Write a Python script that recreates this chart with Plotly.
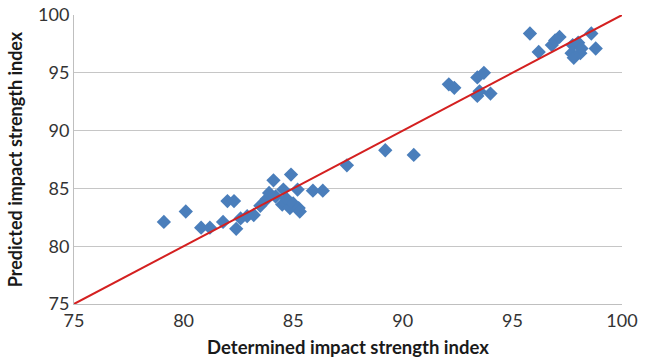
import plotly.graph_objects as go

determined = [79.1, 80.1, 80.8, 81.2, 81.8, 82.0, 82.3, 82.4, 82.6, 82.9, 83.2, 83.5, 83.8, 83.9,
              84.1, 84.2, 84.5, 84.55, 84.7, 84.85, 84.9, 85.0, 85.2, 85.25, 85.3, 85.9, 86.35,
              87.45, 89.2, 90.5, 92.1, 92.35, 93.4, 93.7, 93.5, 94.0, 93.4, 95.8, 96.2, 96.8,
              96.95, 97.15, 97.75, 97.7, 98.0, 97.8, 98.1, 98.15, 98.6, 98.8]
predicted = [82.1, 83.0, 81.6, 81.6, 82.1, 83.9, 83.9, 81.5, 82.4, 82.6, 82.7, 83.5, 84.1, 84.6,
             85.7, 84.3, 83.6, 84.9, 84.1, 83.3, 86.2, 83.7, 84.9, 83.3, 83.0, 84.8, 84.8,
             87.0, 88.3, 87.9, 94.0, 93.7, 94.6, 95.0, 93.4, 93.2, 93.0, 98.4, 96.8, 97.4,
             97.8, 98.1, 97.4, 96.7, 97.6, 96.3, 96.7, 97.1, 98.4, 97.1]
line_x = [75, 100]
line_y = [75, 100]
ticks = [75, 80, 85, 90, 95, 100]

fig = go.Figure()
fig.add_trace(go.Scatter(x=determined, y=predicted, mode="markers",
                         marker=dict(symbol="diamond", size=11, color="#4A7EBB"),
                         showlegend=False))
fig.add_trace(go.Scatter(x=line_x, y=line_y, mode="lines",
                         line=dict(color="#D42020", width=2), showlegend=False))

font = "Lato, 'Open Sans', sans-serif"
fig.update_layout(
    width=648, height=362,
    margin=dict(l=74, r=26, t=15, b=58),
    paper_bgcolor="white", plot_bgcolor="white",
    font=dict(family=font, size=18, color="#333333"),
    xaxis=dict(range=[75, 100], tickvals=ticks, showgrid=False, zeroline=False,
               showline=True, linecolor="#BFBFBF", linewidth=1, ticks="",
               automargin=False,
               title=dict(text="<b>Determined impact strength index</b>", standoff=11,
                          font=dict(size=18.5, color="#1a1a1a"))),
    yaxis=dict(range=[75, 100], tickvals=ticks, showgrid=True, gridcolor="#C6C6C6",
               gridwidth=1, zeroline=False, showline=True, linecolor="#BFBFBF",
               linewidth=1, ticks="", automargin=False,
               title=dict(text="<b>Predicted impact strength index</b>", standoff=10,
                          font=dict(size=18, color="#1a1a1a"))),
)
fig.write_html("out.html", config={"displayModeBar": False},
               post_script="document.body.style.margin='0';")
